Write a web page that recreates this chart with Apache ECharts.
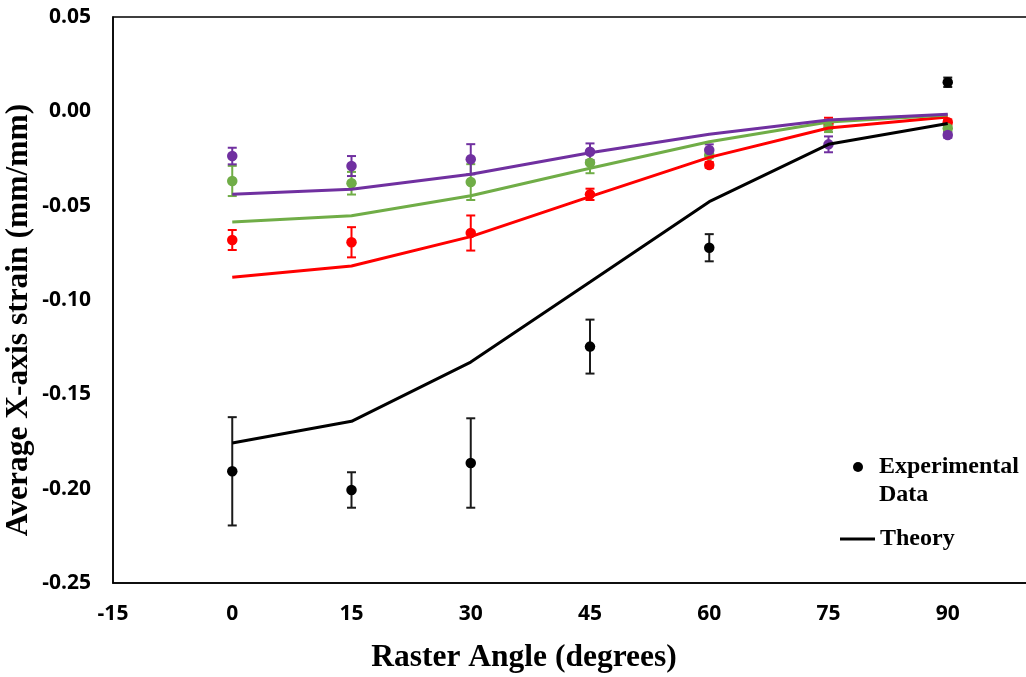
<!DOCTYPE html>
<html>
<head>
<meta charset="utf-8">
<script src="https://cdn.jsdelivr.net/npm/echarts@6/dist/echarts.min.js"></script>
<style>
html,body{margin:0;padding:0;background:#fff;}
#chart{width:1026px;height:677px;}
</style>
</head>
<body>
<div id="chart"></div>
<script>
// ---- Data ----
const angles = [0, 15, 30, 45, 60, 75, 90];
const xTicks = [-15, 0, 15, 30, 45, 60, 75, 90, 105];

const theoryBlack  = [-0.1758, -0.1643, -0.1329, -0.0905, -0.0479, -0.0175, -0.0065];
const theoryRed    = [-0.0880, -0.0820, -0.0664, -0.0452, -0.0244, -0.0088, -0.0030];
const theoryGreen  = [-0.0587, -0.0553, -0.0447, -0.0302, -0.0161, -0.0057, -0.0020];
const theoryPurple = [-0.0440, -0.0413, -0.0334, -0.0219, -0.0122, -0.0046, -0.0015];

const expBlackAngles = [0, 15, 30, 45, 60, 90];
const expBlack     = [-0.1908, -0.2007, -0.1864, -0.1247, -0.0723, 0.0154];
const expBlackErr  = [0.0287, 0.0094, 0.0237, 0.0143, 0.0072, 0.0025];

const expRed       = [-0.0682, -0.0694, -0.0645, -0.0440, -0.0284, -0.0064, -0.0058];
const expRedErr    = [0.0053, 0.0080, 0.0093, 0.0030, 0.0015, 0.0030, 0.0015];
const expGreen     = [-0.0369, -0.0381, -0.0375, -0.0272, -0.0231, -0.0085, -0.0090];
const expGreenErr  = [0.0080, 0.0060, 0.0095, 0.0056, 0.0015, 0.0025, 0.0015];
const expPurple    = [-0.0237, -0.0290, -0.0254, -0.0214, -0.0205, -0.0175, -0.0125];
const expPurpleErr = [0.0044, 0.0053, 0.0080, 0.0044, 0.0030, 0.0042, 0.0015];

const colors = { black: '#000000', red: '#FF0000', green: '#70AD47', purple: '#7030A0' };

// ---- Helpers ----
function pts(xs, ys) { return xs.map((x, i) => [x, ys[i]]); }
function errPts(xs, ys, es) { return xs.map((x, i) => [x, ys[i], es[i]]); }

function errorSeries(name, xs, ys, es, color, lw) {
  return {
    type: 'custom',
    name: name,
    data: errPts(xs, ys, es),
    z: 2,
    silent: true,
    renderItem: function (params, api) {
      const x = api.value(0), y = api.value(1), e = api.value(2);
      const top = api.coord([x, y + e]);
      const bot = api.coord([x, y - e]);
      const cap = 4.5;
      const style = { stroke: color, lineWidth: lw, fill: null };
      return {
        type: 'group',
        children: [
          { type: 'line', shape: { x1: top[0], y1: top[1], x2: bot[0], y2: bot[1] }, style: style },
          { type: 'line', shape: { x1: top[0] - cap, y1: top[1], x2: top[0] + cap, y2: top[1] }, style: style },
          { type: 'line', shape: { x1: bot[0] - cap, y1: bot[1], x2: bot[0] + cap, y2: bot[1] }, style: style }
        ]
      };
    }
  };
}
function scatterSeries(name, xs, ys, color) {
  return {
    type: 'scatter', name: name, data: pts(xs, ys), symbol: 'circle', symbolSize: 10.5,
    itemStyle: { color: color, opacity: 1 }, z: 3, silent: true
  };
}
function lineSeries(name, xs, ys, color, w) {
  return {
    type: 'line', name: name, data: pts(xs, ys), showSymbol: false, symbol: 'none',
    lineStyle: { color: color, width: w }, itemStyle: { color: color }, z: 4, silent: true, animation: false
  };
}

const serif = '"Liberation Serif", "Times New Roman", serif';
const sans = '"Open Sans", "Liberation Sans", sans-serif';

const chart = echarts.init(document.getElementById('chart'), null, { renderer: 'canvas' });
chart.setOption({
  animation: false,
  backgroundColor: '#ffffff',
  grid: { left: 113, top: 17, width: 954, height: 566, outerBoundsMode: 'none', containLabel: false,
    show: true, borderColor: '#000', borderWidth: 1.5, backgroundColor: 'transparent' },
  xAxis: {
    type: 'value', min: xTicks[0], max: xTicks[xTicks.length - 1], interval: 15,
    axisLine: { show: true, onZero: false, lineStyle: { color: '#000', width: 1.5 } },
    axisTick: { show: false },
    splitLine: { show: false },
    axisLabel: { color: '#000', fontFamily: sans, fontWeight: 'bold', fontSize: 21, margin: 21 },
    name: 'Raster Angle (degrees)',
    nameLocation: 'middle', nameGap: 59, nameMoveOverlap: false,
    nameTextStyle: { color: '#000', fontFamily: serif, fontWeight: 'bold', fontSize: 31.5, padding: [0, 132, 0, 0] }
  },
  yAxis: {
    type: 'value', min: -0.25, max: 0.05, interval: 0.05,
    axisLine: { show: true, onZero: false, lineStyle: { color: '#000', width: 1.5 } },
    axisTick: { show: false },
    splitLine: { show: false },
    axisLabel: { color: '#000', fontFamily: sans, fontWeight: 'bold', fontSize: 21, margin: 22,
      formatter: v => v.toFixed(2) },
    name: 'Average X-axis strain (mm/mm)',
    nameLocation: 'middle', nameGap: 78, nameMoveOverlap: false,
    nameTextStyle: { color: '#000', fontFamily: serif, fontWeight: 'bold', fontSize: 31.5, padding: [0, 40, 0, 0] }
  },
  legend: [
    {
      data: [{ name: 'Experimental Data', icon: 'circle' }],
      left: 848, top: 420, orient: 'vertical',
      itemWidth: 32, itemHeight: 10, selectedMode: false,
      formatter: n => ' \nExperimental\nData',
      textStyle: { color: '#000', fontFamily: serif, fontWeight: 'bold', fontSize: 24, lineHeight: 28 }
    },
    {
      data: [{ name: 'Theory', icon: 'rect' }],
      left: 835, top: 522, orient: 'vertical',
      itemWidth: 35, itemHeight: 3, selectedMode: false,
      textStyle: { color: '#000', fontFamily: serif, fontWeight: 'bold', fontSize: 24 }
    }
  ],
  series: [
    errorSeries('errBlack', expBlackAngles, expBlack, expBlackErr, '#1a1a1a', 2),
    errorSeries('errRed', angles, expRed, expRedErr, colors.red, 2),
    errorSeries('errGreen', angles, expGreen, expGreenErr, colors.green, 2),
    errorSeries('errPurple', angles, expPurple, expPurpleErr, colors.purple, 2),
    scatterSeries('Experimental Data', expBlackAngles, expBlack, colors.black),
    scatterSeries('Exp Red', angles, expRed, colors.red),
    scatterSeries('Exp Green', angles, expGreen, colors.green),
    scatterSeries('Exp Purple', angles, expPurple, colors.purple),
    lineSeries('Theory', angles, theoryBlack, colors.black, 3),
    lineSeries('Theory Red', angles, theoryRed, colors.red, 3),
    lineSeries('Theory Green', angles, theoryGreen, colors.green, 3),
    lineSeries('Theory Purple', angles, theoryPurple, colors.purple, 3)
  ]
});
</script>
</body>
</html>
